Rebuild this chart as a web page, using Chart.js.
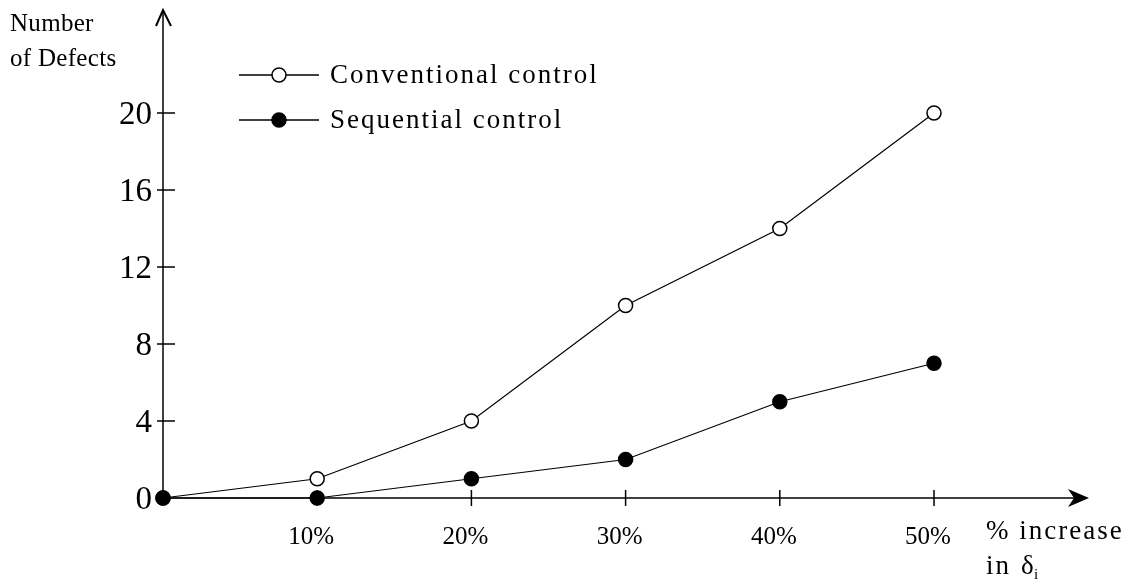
<!DOCTYPE html>
<html>
<head>
<meta charset="utf-8">
<script src="https://cdn.jsdelivr.net/npm/chart.js@4.4.1/dist/chart.umd.min.js"></script>
<style>
  html, body { margin: 0; padding: 0; background: #fff; }
  #wrap { width: 1128px; height: 584px; }
</style>
</head>
<body>
<div id="wrap"><canvas id="grafico"></canvas></div>
<script>
// dados
const increase = [0, 10, 20, 30, 40, 50]
const conventional = [0, 1, 4, 10, 14, 20]
const sequential = [0, 0, 1, 2, 5, 7]
const yTicks = [0, 4, 8, 12, 16, 20]
const seriesNames = ['Conventional control', 'Sequential control']

const SERIF = '"Liberation Serif", "Times New Roman", serif'

function pontos(valores) {
    return increase.map((x, i) => ({ x: x, y: valores[i] }))
}

// eixos com setas, marcas, legenda e titulos
const eixosPlugin = {
    id: 'eixos',
    afterDatasetsDraw(chart) {
        const ctx = chart.ctx
        const xs = chart.scales.x
        const ys = chart.scales.y
        const x0 = xs.getPixelForValue(0)
        const y0 = ys.getPixelForValue(0)

        ctx.save()
        ctx.strokeStyle = '#000'
        ctx.fillStyle = '#000'
        ctx.lineWidth = 1.5

        // eixo y
        ctx.beginPath()
        ctx.moveTo(x0, y0)
        ctx.lineTo(x0, 11)
        ctx.stroke()
        ctx.beginPath()
        ctx.moveTo(x0 - 7, 26)
        ctx.lineTo(x0, 10)
        ctx.lineTo(x0 + 8, 26)
        ctx.lineWidth = 2
        ctx.stroke()

        // eixo x
        ctx.lineWidth = 1.5
        ctx.beginPath()
        ctx.moveTo(x0, y0)
        ctx.lineTo(1080, y0)
        ctx.stroke()
        ctx.beginPath()
        ctx.moveTo(1089, y0)
        ctx.lineTo(1068, y0 - 9)
        ctx.lineTo(1074, y0)
        ctx.lineTo(1068, y0 + 9)
        ctx.closePath()
        ctx.fill()

        // marcas
        ctx.lineWidth = 1.5
        yTicks.forEach(v => {
            if (v === 0) return
            const py = ys.getPixelForValue(v)
            ctx.beginPath()
            ctx.moveTo(x0 - 6, py)
            ctx.lineTo(x0 + 12, py)
            ctx.stroke()
        })
        increase.forEach(v => {
            if (v === 0) return
            const px = xs.getPixelForValue(v)
            ctx.beginPath()
            ctx.moveTo(px, y0 - 8)
            ctx.lineTo(px, y0 + 8)
            ctx.stroke()
        })

        // legenda
        ctx.letterSpacing = '2px'
        ctx.font = '27px ' + SERIF
        ctx.textBaseline = 'middle'
        ctx.textAlign = 'left'
        const legY = [75, 120]
        chart.data.datasets.forEach((ds, i) => {
            const y = legY[i]
            ctx.lineWidth = 1.5
            ctx.beginPath()
            ctx.moveTo(239, y)
            ctx.lineTo(319, y)
            ctx.stroke()
            ctx.beginPath()
            ctx.arc(279, y, 7, 0, Math.PI * 2)
            ctx.fillStyle = ds.pointBackgroundColor
            ctx.fill()
            ctx.stroke()
            ctx.fillStyle = '#000'
            ctx.fillText(ds.label, 330, y + 1)
        })

        // titulos dos eixos
        ctx.textBaseline = 'alphabetic'
        ctx.letterSpacing = '0.3px'
        ctx.font = '25px ' + SERIF
        ctx.fillText('Number', 10, 31)
        ctx.fillText('of Defects', 10, 66)
        ctx.letterSpacing = '2px'
        ctx.font = '27px ' + SERIF
        ctx.fillText('% increase', 986, 539)
        ctx.fillText('in', 986, 574)
        ctx.letterSpacing = '0px'
        ctx.fillText('\u03B4', 1021, 574)
        ctx.font = '15px ' + SERIF
        ctx.fillText('i', 1034, 579)
        ctx.restore()
    }
}

new Chart(document.querySelector('#grafico'), {
    type: 'line',
    data: {
        datasets: [{
            label: seriesNames[0],
            data: pontos(conventional),
            borderColor: '#000',
            borderWidth: 1.2,
            pointRadius: 7,
            pointBorderWidth: 1.5,
            pointBackgroundColor: '#fff',
            pointBorderColor: '#000',
            order: 1,
            clip: false
        }, {
            label: seriesNames[1],
            data: pontos(sequential),
            borderColor: '#000',
            borderWidth: 1.2,
            pointRadius: 7,
            pointBorderWidth: 1.5,
            pointBackgroundColor: '#000',
            pointBorderColor: '#000',
            order: 0,
            clip: false
        }]
    },
    options: {
        responsive: true,
        maintainAspectRatio: false,
        animation: false,
        devicePixelRatio: 1,
        layout: { padding: { left: 0, top: 113, right: 194, bottom: 0 } },
        plugins: { legend: { display: false }, tooltip: { enabled: false } },
        scales: {
            x: {
                type: 'linear',
                min: 0,
                max: 50,
                grid: { display: false },
                border: { display: false },
                afterFit: (s) => { s.height = 86 },
                afterBuildTicks: (s) => { s.ticks = increase.map(v => ({ value: v })) },
                ticks: {
                    color: '#000',
                    font: { family: SERIF, size: 25 },
                    padding: 16,
                    labelOffset: -6,
                    maxRotation: 0,
                    callback: (v) => v === 0 ? '' : v + '%'
                }
            },
            y: {
                min: 0,
                max: 20,
                grid: { display: false },
                border: { display: false },
                afterFit: (s) => { s.width = 163 },
                afterBuildTicks: (s) => { s.ticks = yTicks.map(v => ({ value: v })) },
                ticks: {
                    color: '#000',
                    font: { family: SERIF, size: 33 },
                    padding: 3,
                    labelOffset: 2
                }
            }
        }
    },
    plugins: [eixosPlugin]
})
</script>
</body>
</html>
